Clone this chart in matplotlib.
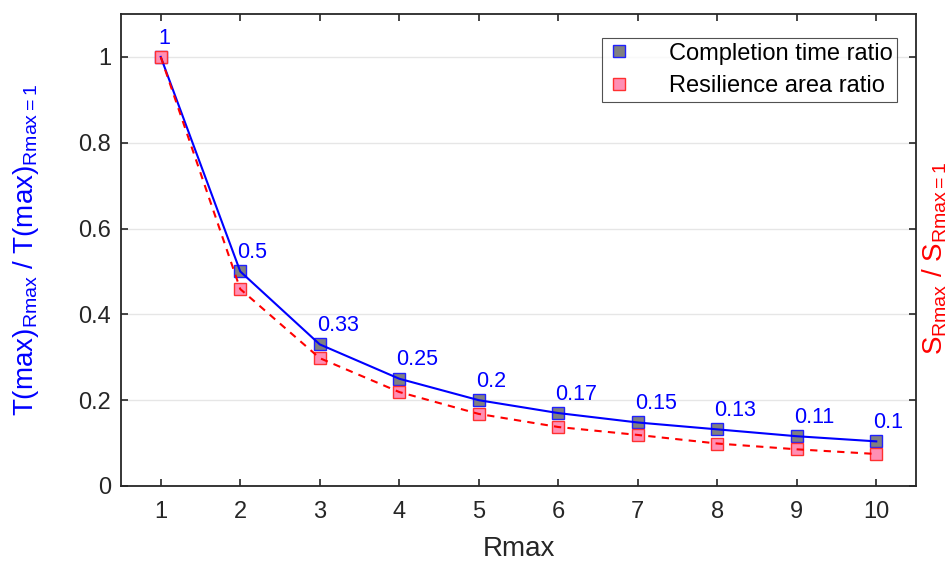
import matplotlib
matplotlib.use("Agg")
import matplotlib.pyplot as plt
import numpy as np

plt.rcParams['font.family'] = ['Liberation Sans', 'DejaVu Sans']
plt.rcParams['mathtext.fontset'] = 'custom'
plt.rcParams['mathtext.rm'] = 'Liberation Sans'

rmax = [1, 2, 3, 4, 5, 6, 7, 8, 9, 10]
time_ratio = [1.0, 0.5, 0.33, 0.25, 0.2, 0.17, 0.148, 0.132, 0.116, 0.104]
time_labels = ['1', '0.5', '0.33', '0.25', '0.2', '0.17', '0.15', '0.13', '0.11', '0.1']
area_ratio = [1.0, 0.459, 0.298, 0.219, 0.168, 0.1375, 0.119, 0.099, 0.0855, 0.0746]

fig = plt.figure(figsize=(9.48, 5.61), dpi=100)
ax = fig.add_axes([121/948, 1 - 486/561, 795/948, 472/561])

# markers (under lines)
ax.plot(rmax, time_ratio, linestyle='none', marker='s', markersize=8,
        markerfacecolor='#808080', markeredgecolor='#2020ff', markeredgewidth=1.0,
        label='Completion time ratio', zorder=3)
ax.plot(rmax, area_ratio, linestyle='none', marker='s', markersize=8,
        markerfacecolor='#ff8fb4', markeredgecolor='#ff3030', markeredgewidth=1.0,
        label='Resilience area ratio', zorder=3)
# lines on top
ax.plot(rmax, time_ratio, color='#0000ff', linewidth=1.5, zorder=4)
ax.plot(rmax, area_ratio, color='#ff0000', linewidth=1.5, linestyle=(0, (3.5, 3)), zorder=4)

for x, y, s in zip(rmax, time_ratio, time_labels):
    ax.annotate(s, (x, y), xytext=(-2, 6), textcoords='offset points',
                ha='left', va='bottom', color='#0000ff', fontsize=15.5, zorder=5)

ax.set_xlim(0.5, 10.5)
ax.set_ylim(0, 1.1)
ax.set_xticks(rmax)
ax.set_yticks([0, 0.2, 0.4, 0.6, 0.8, 1.0])
ax.set_yticklabels(['0', '0.2', '0.4', '0.6', '0.8', '1'])
ax.yaxis.grid(True, color='#e6e6e6', linewidth=1.0)
ax.set_axisbelow(True)

ax.tick_params(direction='in', length=5, width=1.2, top=True, right=True,
               labelsize=17, colors='#262626')
ax.tick_params(axis='x', pad=11)
ax.tick_params(axis='y', pad=7)
for sp in ax.spines.values():
    sp.set_linewidth(1.3)
    sp.set_color('#262626')

ax.set_xlabel('Rmax', fontsize=20, color='#262626', labelpad=9)
ax.set_ylabel(r'T(max)$_{\mathregular{Rmax}}$ / T(max)$_{\mathregular{Rmax=1}}$',
              fontsize=20, color='#0000ff', labelpad=27)

fig.text(920/948, 0.54, r'S$_{\mathregular{Rmax}}$ / S$_{\mathregular{Rmax=1}}$',
         rotation=90, ha='left', va='center', fontsize=20, color='#ff0000')

leg = ax.legend(loc='upper right', fontsize=17, frameon=True, fancybox=False,
                handlelength=1.0, handletextpad=1.6, borderpad=0.2, labelspacing=0.45,
                borderaxespad=0)
leg.get_frame().set_edgecolor('#262626')
leg.get_frame().set_linewidth(0.8)
leg.set_bbox_to_anchor(((897-121)/795, 1 - (38-14)/472), transform=ax.transAxes)

fig.savefig('out.png', dpi=100)
